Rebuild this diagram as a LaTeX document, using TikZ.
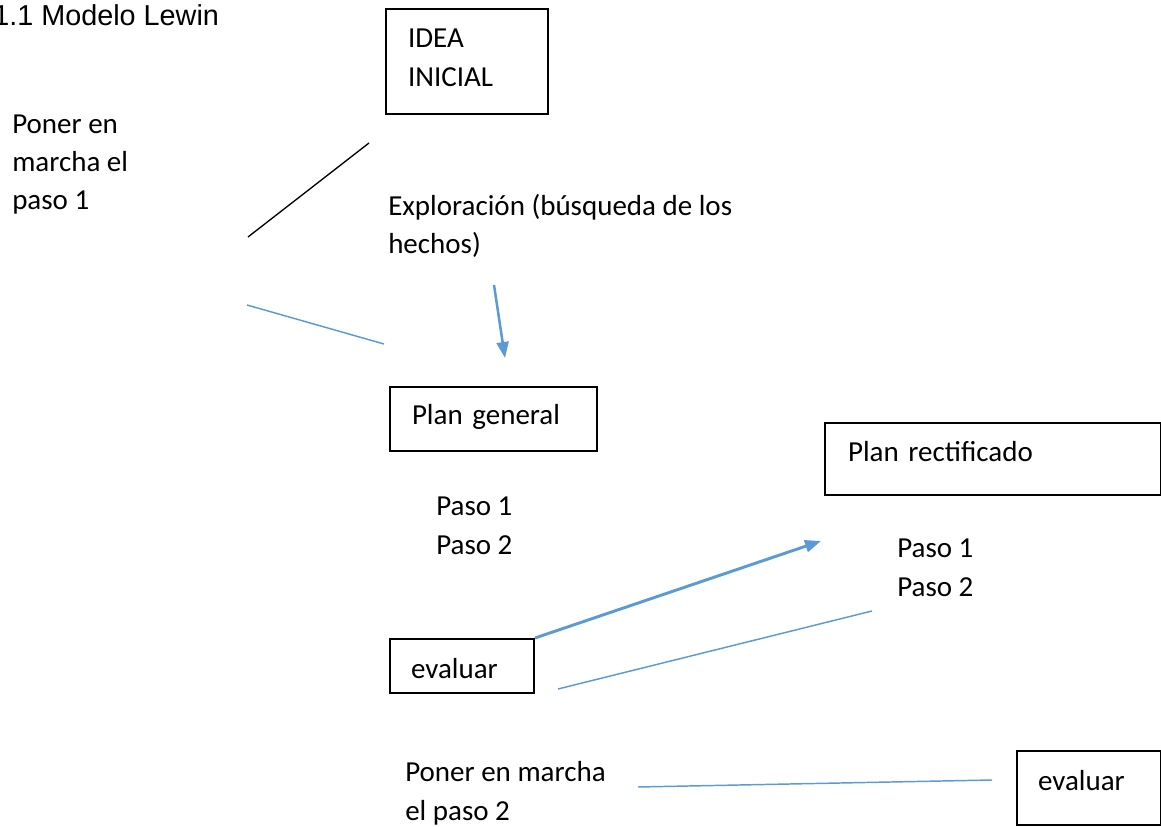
\documentclass[tikz,border=0pt]{standalone}
\usepackage{fontspec}
\setmainfont{Carlito}
\newfontfamily\arialfont{Liberation Sans}
\usetikzlibrary{arrows.meta}
\definecolor{lblue}{HTML}{5B9BD5}
\begin{document}
\begin{tikzpicture}[x=0.75pt,y=-0.75pt,
  every node/.style={font=\fontsize{21.75pt}{28.6pt}\selectfont, inner sep=0pt, align=left},
  box/.style={draw=black, line width=1.5pt, anchor=north west},
  plain/.style={anchor=base west},
  thinblue/.style={draw=lblue, line width=1.1pt},
  thickblue/.style={draw=lblue, line width=2.2pt, -{Triangle[length=12pt,width=9pt]}},
  medblue/.style={draw=lblue, line width=1.9pt, -{Triangle[length=12pt,width=9pt]}},
  blackline/.style={draw=black, line width=1pt}]
\useasboundingbox (0,0) rectangle (1161,827);
% title
\node[anchor=base west, font=\arialfont\fontsize{21.6pt}{25pt}\selectfont] (title) at (-7,26) {1.1 Modelo Lewin};
% boxes
\node[box, inner xsep=16.5pt, text width=88.5pt, text height=29.25pt, text depth=49.5pt] (idea) at (385,8) {IDEA\\INICIAL};
\node[box, inner xsep=16.5pt, text width=122.25pt, text height=28.5pt, text depth=19.5pt] (plang) at (389,386) {Plan general};
\node[box, inner xsep=17.25pt, text width=217.5pt, text height=28.5pt, text depth=25.5pt] (planr) at (824,422) {Plan rectificado};
\node[box, inner xsep=15.75pt, text width=76.5pt, text height=29.25pt, text depth=11.25pt] (eval1) at (389,638) {evaluar};
\node[box, inner xsep=15.75pt, text width=76.5pt, text height=29.25pt, text depth=26.25pt] (eval2) at (1016,750) {evaluar};
% texts (anchored at the baseline of their last line)
\node[plain] (poner1) at (12,210) {Poner en\\marcha el\\paso 1};
\node[plain] (explor) at (388,254) {Exploración (búsqueda de los\\hechos)};
\node[plain] (pasosA) at (436,554) {Paso 1\\Paso 2};
\node[plain] (pasosB) at (897,596) {Paso 1\\Paso 2};
\node[plain] (poner2) at (405,820) {Poner en marcha\\el paso 2};
% connector ends
\coordinate (b1) at (248,237);
\coordinate (b2) at (369,143);
\coordinate (l1a) at (247,305);
\coordinate (l1b) at (384,344);
\coordinate (a1a) at (494,285);
\coordinate (a1b) at (505,358);
\coordinate (a2b) at (821,541);
\coordinate (l2a) at (558,689);
\coordinate (l2b) at (872,611);
\coordinate (l3a) at (638,787);
\coordinate (l3b) at (992,780);
% connectors
\draw[blackline] (b1) -- (b2);
\draw[thinblue] (l1a) -- (l1b);
\draw[medblue] (a1a) -- (a1b);
\draw[thickblue] (eval1.north east) -- (a2b);
\draw[thinblue] (l2a) -- (l2b);
\draw[thinblue] (l3a) -- (l3b);
\end{tikzpicture}
\end{document}
